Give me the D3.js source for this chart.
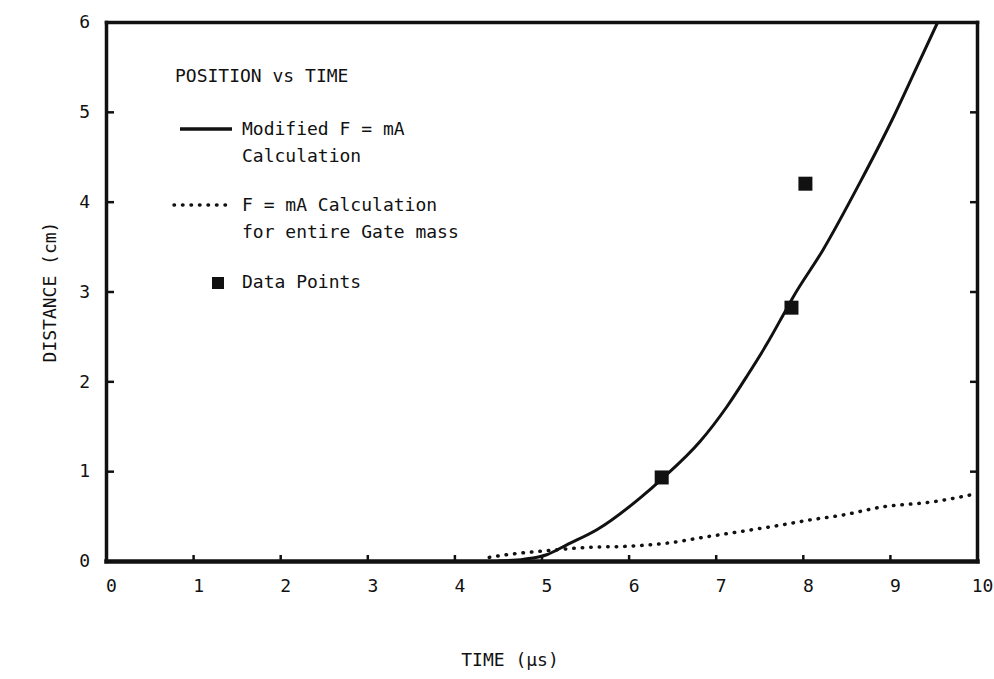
<!DOCTYPE html>
<html>
<head>
<meta charset="utf-8">
<script src="https://cdn.jsdelivr.net/npm/d3@7"></script>
<style>
  body { margin: 0; background: #fff; }
  svg text { font-family: "DejaVu Sans Mono", monospace; fill: #111; }
</style>
</head>
<body>
<svg id="chart"></svg>
<script>
const width = 994;
const height = 679;

// axis ticks
const xTicks = [0, 1, 2, 3, 4, 5, 6, 7, 8, 9, 10];
const yTicks = [0, 1, 2, 3, 4, 5, 6];

// solid: modified F = mA calculation
const modTime = [4.5, 4.8, 5.06, 5.29, 5.64, 6.13, 6.39, 6.82, 7.13, 7.36, 7.59, 7.77, 7.89, 8.23, 8.66, 9.04, 9.31, 9.55];
const modDist = [0, 0.02, 0.07, 0.18, 0.35, 0.70, 0.92, 1.33, 1.72, 2.06, 2.42, 2.73, 2.94, 3.46, 4.22, 4.94, 5.50, 6.0];

// dotted: F = mA calculation for entire gate mass
const gateTime = [4.4, 4.6, 5.0, 5.5, 6.0, 6.45, 6.9, 7.3, 7.75, 8.1, 8.45, 8.9, 9.5, 10];
const gateDist = [0.04, 0.07, 0.11, 0.15, 0.165, 0.2, 0.27, 0.33, 0.40, 0.46, 0.51, 0.6, 0.66, 0.75];

// measured data points
const pointTime = [6.38, 7.87, 8.03];
const pointDist = [0.93, 2.82, 4.2];

const title = 'POSITION vs TIME';
const legendSolid = ['Modified F = mA', 'Calculation'];
const legendDotted = ['F = mA Calculation', 'for entire Gate mass'];
const legendPoints = 'Data Points';

const svg = d3.select('#chart')
    .attr('width', width)
    .attr('height', height);

const x = d3.scaleLinear().domain([0, 10]).range([106, 977]);
const y = d3.scaleLinear().domain([0, 6]).range([561, 22]);

const plot = svg.append('g');

const xAxis = svg.append('g')
    .attr('transform', `translate(0, ${y(0)})`)
    .call(d3.axisBottom(x).tickValues(xTicks).tickFormat(d3.format('d'))
        .tickSizeInner(-6).tickSizeOuter(0).tickPadding(18));

const yAxis = svg.append('g')
    .attr('transform', `translate(${x(0)}, 0)`)
    .call(d3.axisLeft(y).tickValues(yTicks).tickFormat(d3.format('d'))
        .tickSizeInner(-8).tickSizeOuter(0).tickPadding(16));

const rAxis = svg.append('g')
    .attr('transform', `translate(${x(10)}, 0)`)
    .call(d3.axisRight(y).tickValues(yTicks.slice(1, 6)).tickSizeInner(-7).tickSizeOuter(0).tickFormat(''));

const tAxis = svg.append('g')
    .attr('transform', `translate(0, ${y(6)})`)
    .call(d3.axisTop(x).tickValues([]).tickSizeOuter(0));

[xAxis, yAxis, rAxis, tAxis].forEach(a => {
    a.select('.domain').attr('stroke', '#111').attr('stroke-width', 3.5).attr('stroke-linecap', 'square');
    a.selectAll('.tick line').attr('stroke', '#111').attr('stroke-width', 2.5);
    a.selectAll('.tick text').attr('font-size', 18).attr('fill', '#111')
        .attr('font-family', '"DejaVu Sans Mono", monospace');
});
xAxis.select('.domain').attr('stroke-width', 4.5);
xAxis.selectAll('.tick text').attr('dx', 5);

// curves
const line = d3.line()
    .x(d => x(d[0]))
    .y(d => y(d[1]))
    .curve(d3.curveMonotoneX);

plot.append('path')
    .datum(gateTime.map((t, i) => [t, gateDist[i]]))
    .attr('fill', 'none')
    .attr('stroke', '#111')
    .attr('stroke-width', 3.5)
    .attr('stroke-linecap', 'round')
    .attr('stroke-dasharray', '0.5,8')
    .attr('d', line);

plot.append('path')
    .datum(modTime.map((t, i) => [t, modDist[i]]))
    .attr('fill', 'none')
    .attr('stroke', '#111')
    .attr('stroke-width', 3)
    .attr('d', line);

const sq = 14;
plot.selectAll('rect.pt')
    .data(pointTime.map((t, i) => [t, pointDist[i]]))
    .enter()
    .append('rect')
    .attr('class', 'pt')
    .attr('x', d => x(d[0]) - sq / 2)
    .attr('y', d => y(d[1]) - sq / 2)
    .attr('width', sq)
    .attr('height', sq)
    .attr('fill', '#111');

// legend
const legend = svg.append('g').attr('font-size', 18);

legend.append('text').attr('x', 175).attr('y', 82).text(title);

legend.append('line')
    .attr('x1', 180).attr('x2', 232).attr('y1', 129).attr('y2', 129)
    .attr('stroke', '#111').attr('stroke-width', 3.5);
legendSolid.forEach((s, i) => {
    legend.append('text').attr('x', 242).attr('y', 135 + i * 27).text(s);
});

legend.append('line')
    .attr('x1', 174).attr('x2', 232).attr('y1', 205).attr('y2', 205)
    .attr('stroke', '#111').attr('stroke-width', 3.5)
    .attr('stroke-linecap', 'round').attr('stroke-dasharray', '0.5,8');
legendDotted.forEach((s, i) => {
    legend.append('text').attr('x', 242).attr('y', 211 + i * 27).text(s);
});

legend.append('rect')
    .attr('x', 212).attr('y', 277).attr('width', 12).attr('height', 12)
    .attr('fill', '#111');
legend.append('text').attr('x', 242).attr('y', 288).text(legendPoints);

// axis titles
svg.append('text')
    .attr('transform', 'translate(56, 292) rotate(-90)')
    .attr('text-anchor', 'middle')
    .attr('font-size', 18)
    .text('DISTANCE (cm)');

svg.append('text')
    .attr('x', 510)
    .attr('y', 666)
    .attr('text-anchor', 'middle')
    .attr('font-size', 18)
    .text('TIME (\u03bcs)');
</script>
</body>
</html>
